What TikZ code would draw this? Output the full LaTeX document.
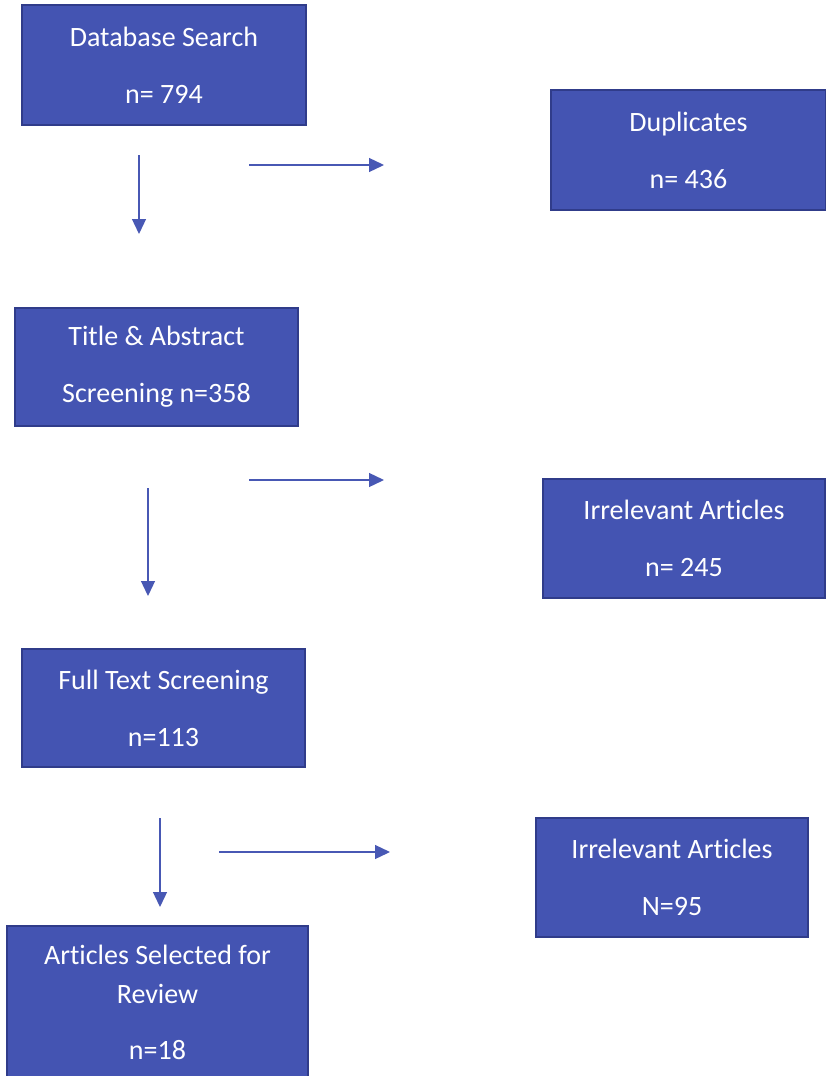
\documentclass[tikz,border=0pt]{standalone}
\usepackage{fontspec}
\setmainfont[Ligatures=NoCommon]{Carlito}
\usepackage{tikz}
\usetikzlibrary{arrows.meta}
\definecolor{boxFill}{RGB}{68, 84, 178}
\definecolor{boxEdge}{RGB}{48, 60, 138}
\definecolor{flowArrow}{RGB}{72, 88, 180}

\begin{document}
\begin{tikzpicture}[x=1pt, y=-1pt,
    stagebox/.style={draw=boxEdge, line width=1.2pt, fill=boxFill, text=white,
        align=center, inner sep=0pt, font=\fontsize{28}{39}\selectfont},
    flow/.style={-{Triangle[length=15pt, width=14pt]}, draw=flowArrow, line width=1.3pt}]
  \useasboundingbox (0,0) rectangle (826,1076);

  \node[stagebox, minimum width=284pt, minimum height=120pt] (dbsearch) at (164,65)
    {Database Search\\[18pt]n= 794};
  \node[stagebox, minimum width=275pt, minimum height=120pt] (dup) at (688.5,150)
    {Duplicates\\[18pt]n= 436};
  \node[stagebox, minimum width=283pt, minimum height=118pt] (tiab) at (156.5,367)
    {Title \& Abstract\\[18pt]Screening n=358};
  \node[stagebox, minimum width=282pt, minimum height=119pt] (irrel1) at (684,538.5)
    {Irrelevant Articles\\[18pt]n= 245};
  \node[stagebox, minimum width=283pt, minimum height=118pt] (fulltext) at (163.5,708)
    {Full Text Screening\\[18pt]n=113};
  \node[stagebox, minimum width=272pt, minimum height=119pt] (irrel2) at (672,877.5)
    {Irrelevant Articles\\[18pt]N=95};
  \node[stagebox, minimum width=301pt, minimum height=152pt] (selected) at (157.5,1002)
    {Articles Selected for\\Review\\[17pt]n=18};

  % free-standing arrows between the stages
  \coordinate (d1s) at (139,155);  \coordinate (d1e) at (139,234);
  \coordinate (r1s) at (249,165);  \coordinate (r1e) at (384,165);
  \coordinate (d2s) at (148,488);  \coordinate (d2e) at (148,596);
  \coordinate (r2s) at (249,480);  \coordinate (r2e) at (384,480);
  \coordinate (d3s) at (160,818);  \coordinate (d3e) at (160,907);
  \coordinate (r3s) at (219,852);  \coordinate (r3e) at (390,852);

  \draw[flow] (d1s) -- (d1e);
  \draw[flow] (r1s) -- (r1e);
  \draw[flow] (d2s) -- (d2e);
  \draw[flow] (r2s) -- (r2e);
  \draw[flow] (d3s) -- (d3e);
  \draw[flow] (r3s) -- (r3e);
\end{tikzpicture}
\end{document}
